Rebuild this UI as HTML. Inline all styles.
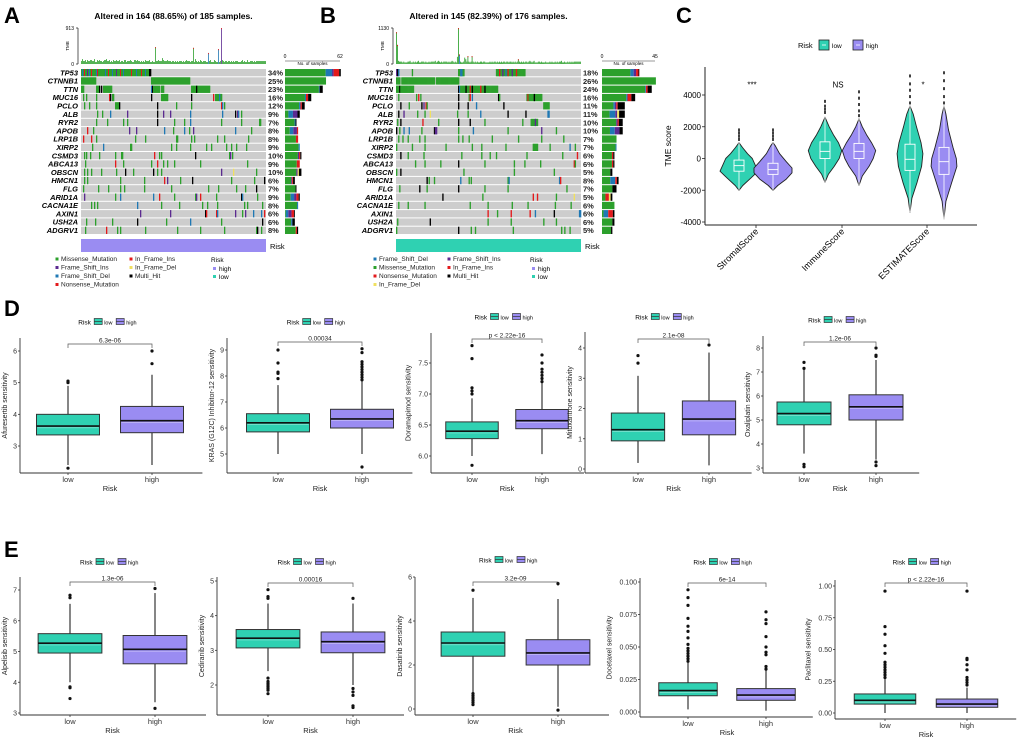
<!DOCTYPE html>
<html><head><meta charset="utf-8"><style>
html,body{margin:0;padding:0;background:#fff;}
svg{display:block;font-family:"Liberation Sans",sans-serif;}
</style></head><body>
<svg id="fig" width="1020" height="741" viewBox="0 0 1020 741" xmlns="http://www.w3.org/2000/svg">
<text x="4" y="23" font-size="22" font-weight="bold">A</text>
<text x="320" y="23" font-size="22" font-weight="bold">B</text>
<text x="676" y="23" font-size="22" font-weight="bold">C</text>
<text x="4" y="316" font-size="22" font-weight="bold">D</text>
<text x="4" y="557" font-size="22" font-weight="bold">E</text>
</svg>
<script>
// ---------- data ----------
const genesA = ["TP53","CTNNB1","TTN","MUC16","PCLO","ALB","RYR2","APOB","LRP1B","XIRP2","CSMD3","ABCA13","OBSCN","HMCN1","FLG","ARID1A","CACNA1E","AXIN1","USH2A","ADGRV1"];
const pctA = [34,25,23,16,12,9,7,8,8,9,10,9,10,6,7,9,8,6,6,8];
const pctB = [18,26,24,16,11,11,10,10,7,7,6,6,5,8,7,5,6,6,6,5];
const cellsA = [
"0-69:gbgrggpgbgrggggbrgggggggbggrgggbgggpgggrggbgggggggrggggbggggrgggbgggkk",
"0-14:g 70-108:g",
"0-2:g 15-17:g 18:k 20:k 22-30:g 70:b 71:k 72-78:g 80-82:g 110-128:g 115:k",
"2:g 5:g 15:g 28:r 29:k 31:g 32:g 70:k 80:g 81-86:g 110:k 132:r 134-140:g 138:b",
"3:g 8:g 15:g 34-37:g 38:k 76:k 95:g 110:g 140:r 141:b 143:g",
"16:g 21:g 29:b 46:p 76:k 82:p 89:p 109:b 141:b 154:k 156:p 157:b 160:g",
"15:g 26:g 42:g 46:g 76:k 93:g 103:g 109:b 140:g 160:g 178:g 179:g",
"6:r 12:g 48:p 55:p 83:b 92:g 103:b 108:g 112:p 154:b 170:g",
"2:r 10:r 15:g 54:g 64:g 95:g 96:g 110:g 113:g 136:g 143:g 167:g",
"11:g 22:b 49:g 50:g 90:g 95:g 109:g 125:g 130:g 145:g 150:g 155:g 165:g",
"3:g 5:g 9:g 18:g 34:g 40:g 41:g 73:r 78:g 80:g 114:k 148:g 149:p 151:g",
"4:g 34:r 42:g 70:g 76:r 82:g 86:g 93:g 119:g 166:g",
"3:g 6:g 10:g 20:g 35:g 44:k 52:g 72:k 76:g 80:g 140:p 152:y 175:g",
"3:g 6:g 39:g 63:g 83:r 86:p 99:g 111:k 150:g 173:g 183:k",
"2:g 17:g 27:g 39:g 43:g 63:g 90:g 127:g 137:g 155:g 164:g 175:k",
"3:p 34:g 39:b 72:b 78:r 93:g 114:g 115:p 119:r 135:g 160:k 161:b 176:g",
"10:g 13:g 16:g 56:b 80:g 98:g 121:g 126:g 136:g 163:g 166:g 181:g",
"59:p 89:p 124:k 125:r 135:r 136:b 154:p 161:g 164:p 172:b 180:b 183:r",
"5:g 14:g 31:g 56:k 85:g 109:b 140:g 181:k",
"4:g 25:r 36:g 39:g 64:g 96:g 119:g 143:g 175:g 176:k 180:g"];
const cellsB = [
"0:p 1:k 2:b 15:g 59-64:g 61:b 62:b 95-122:g 98:r 101:p 104:b 106:r 110:p 114:r",
"0-3:g 5-36:g 38-59:g",
"0-2:g 3:k 4-16:g 59:k 60:b 61-96:g 66:k 70:r 72:k 80:r 84:k",
"2:g 19:g 21:r 23:g 59:k 69:g 70:r 72:b 97:k 98:g 124:g 125:r 126-138:g 131:k",
"4:k 12:g 24:k 26:p 28:r 29:g 59:k 68:k 76:b 102:k 140-145:g",
"2:k 7:p 20:g 27:g 32:y 58:g 68:g 80:b 106:k 123:k 144:b 145:b",
"1:g 4:k 25:r 40:g 59:k 70:k 84:g 120:g 128-134:g 132:p",
"0:k 3:g 7:b 12:b 24:g 36:k 37:p 38:p 59:g 73:b 106:g 138:p 152:g",
"2:g 6:g 11:g 22:g 27:g 59:g 63:g 69:g 91:g 116:g 138:g 159:g",
"0:g 15:g 27:g 47:g 72:g 81:g 104:g 130-134:g 146:g 165:b 170:g",
"4:k 11:g 26:g 62:g 81:g 89:g 95:g 124:g 158:g 172:r",
"18:g 27:g 42:g 59:k 84:g 112:g 122:g 137:g 169:r 170:g",
"0:g 4:k 64:g 112:g 150:g",
"29:k 31:g 36:g 61:b 69:g 71:g 106:g 107:b 155:b 156:r 176:g",
"3:g 22:k 29:g 59:k 84:g 106:g 162:g",
"44:k 82:g 130:r 134:r 152:g 169:y 181:r 182:b",
"2:g 11:g 27:g 70:g 87:g 110:g 125:g 151:g 166:g",
"87:r 96:g 109:r 127:r 132:b 150:k 174:b 175:b 178:r",
"1:g 32:k 87:g 109:g 140:g 152:g 181:r",
"0:g 59:k 71:g 75:g 111:g 157:g 160:g 165:g 182:g"];
// TMB base levels per sample (digit * 25 = TMB units), and spikes (column -> TMB)
const tmbBaseA = "3533424334433522434332344533423243343342332442333432244343323232433342232223343336433343332332323233323234333233225323243233322334222432232334323323323232333222342322422333232";
const tmbBaseB = "4443332322233422323234223332322323333423432323333232343232932322386333232323232233233222232323323232323323323323232323232323323432342223323222322232322323233422322323232";
const tmbSpikeA = {74:430,112:410,127:280,137:380,140:913};
const tmbSpikeB = {0:1000,1:600,59:1130,60:300,68:250,72:250,116:150};

// Violin data (panel C): [value, relative density]
const tmeCats = ["StromalScore","ImmuneScore","ESTIMATEScore"];
const tmeSig = ["***","NS","*"];
const tmeWidthScale = [1.0,0.88,0.68];
const vLow = [
 [[-2000,0],[-1700,0.2],[-1200,0.65],[-800,1],[-400,0.85],[0,0.7],[300,0.45],[700,0.18],[1000,0]],
 [[-1500,0],[-1000,0.2],[-500,0.55],[0,0.85],[500,1],[1000,0.8],[1500,0.5],[2000,0.25],[2600,0]],
 [[-3400,0],[-2500,0.15],[-1500,0.55],[-500,0.9],[300,1],[1000,0.85],[2000,0.5],[2800,0.25],[3300,0]]];
const vHigh = [
 [[-2000,0],[-1700,0.25],[-1300,0.7],[-900,1],[-600,1],[-200,0.7],[300,0.35],[800,0.12],[1000,0]],
 [[-1700,0],[-1100,0.2],[-500,0.6],[0,0.85],[500,1],[1000,0.75],[1500,0.45],[2000,0.2],[2500,0]],
 [[-3800,0],[-2700,0.15],[-1500,0.6],[-500,1],[0,0.95],[700,0.7],[1800,0.35],[2800,0.15],[3300,0]]];
const vBoxLow = [[-800,-450,-100],[0,450,1050],[-750,-50,900]];
const vBoxHigh = [[-1000,-700,-300],[0,450,950],[-1000,-200,700]];
const vOutLow = [[1200,1400,1600,1800],[2900,3100,3300,3600],[3500,3900,4300,4700,5200]];
const vOutHigh = [[1200,1400,1600,1800],[2700,3000,3400,3800,4200],[3500,3900,4400,4900,5400]];
const tmeTicks = [4000,2000,0,-2000,-4000];

// Boxplot panels: stats = [whiskLo, q1, median, q3, whiskHi]
const boxTitles = ["Afuresertib sensitivity","KRAS (G12C) Inhibitor-12 sensitivity","Doramapimod sensitivity","Mitoxantrone sensitivity","Oxaliplatin sensitivity","Alpelisib sensitivity","Cediranib sensitivity","Dasatinib sensitivity","Docetaxel sensitivity","Paclitaxel sensitivity"];
const boxPvals = ["6.3e-06","0.00034","p < 2.22e-16","2.1e-08","1.2e-06","1.3e-06","0.00016","3.2e-09","6e-14","p < 2.22e-16"];
const lowStats = [[2.4,3.35,3.63,4.0,4.9],[5.0,5.85,6.2,6.55,7.65],[6.0,6.28,6.4,6.55,6.93],[0.2,0.93,1.3,1.85,3.08],[3.6,4.8,5.27,5.75,7.1],[4.0,4.95,5.27,5.58,6.55],[2.4,3.07,3.35,3.6,4.35],[0.75,2.4,3.0,3.5,5.05],[0.002,0.0125,0.0165,0.0225,0.038],[0,0.07,0.1,0.15,0.27]];
const highStats = [[2.4,3.42,3.8,4.25,5.25],[5.0,6.0,6.35,6.72,7.8],[6.03,6.44,6.57,6.75,7.18],[0.12,1.13,1.65,2.25,3.85],[3.35,5.0,5.55,6.05,7.5],[3.35,4.6,5.07,5.52,6.9],[2.0,2.93,3.25,3.53,4.35],[0.1,2.0,2.55,3.15,5.0],[0.001,0.009,0.013,0.018,0.032],[0,0.045,0.07,0.11,0.2]];
const lowOut = [[2.3,5.0,5.05],[7.9,8.1,8.15,8.5,9.0],[5.85,7.0,7.05,7.1,7.57,7.78],[3.5,3.75],[3.05,3.15,7.15,7.4],[3.47,3.82,3.85,6.75,6.83],[1.75,1.85,1.9,1.95,2.0,2.05,2.1,2.2,4.5,4.55,4.75],[0.2,0.3,0.4,0.5,0.6,0.7,5.4],[0.039,0.041,0.043,0.045,0.047,0.049,0.052,0.057,0.062,0.066,0.072,0.082,0.088,0.094],[0.28,0.3,0.32,0.34,0.36,0.38,0.4,0.47,0.53,0.62,0.68,0.96]];
const highOut = [[5.6,6.0],[4.5,7.85,7.95,8.05,8.15,8.25,8.35,8.45,8.55,8.9,9.05],[7.2,7.25,7.3,7.35,7.4,7.5,7.63],[4.1],[3.1,3.25,7.65,7.7,8.0],[3.15,7.05],[1.35,1.4,1.7,1.8,1.9,4.5],[-0.05,5.7],[0.033,0.035,0.044,0.046,0.05,0.058,0.068,0.071,0.077],[0.22,0.24,0.26,0.28,0.34,0.38,0.42,0.43,0.96]];
const boxTicks = [[3,4,5,6],[5,6,7,8,9],[6.0,6.5,7.0,7.5],[0,1,2,3,4],[3,4,5,6,7,8],[3,4,5,6,7],[2,3,4,5],[0,2,4,6],[0,0.025,0.05,0.075,0.1],[0,0.25,0.5,0.75,1.0]];
const boxTickFmt = [0,0,1,0,0,0,0,0,3,2];

// layout (pixels)
const boxLayout = [
 {ax:20,lx:68,hx:152,top:338,bot:473,v1:6,y1:351,v2:3,y2:446,br:344,leg:322},
 {ax:227,lx:278,hx:362,top:338,bot:473,v1:9,y1:350,v2:5,y2:454,br:342,leg:322},
 {ax:431,lx:472,hx:542,top:333,bot:473,v1:7.5,y1:363,v2:6,y2:456,br:339,leg:317},
 {ax:585,lx:638,hx:709,top:332,bot:473,v1:4,y1:348,v2:0,y2:469,br:339,leg:317},
 {ax:763,lx:804,hx:876,top:336,bot:473,v1:8,y1:348,v2:3,y2:468,br:342,leg:320},
 {ax:20,lx:70,hx:155,top:577,bot:715,v1:7,y1:590,v2:3,y2:713,br:582,leg:562},
 {ax:217,lx:268,hx:353,top:577,bot:715,v1:5,y1:581,v2:2,y2:685,br:583,leg:562},
 {ax:415,lx:473,hx:558,top:577,bot:715,v1:6,y1:577,v2:0,y2:709,br:582,leg:560},
 {ax:640,lx:688,hx:766,top:578,bot:717,v1:0.1,y1:582,v2:0,y2:712,br:583,leg:562},
 {ax:835,lx:885,hx:967,top:580,bot:719,v1:1,y1:586,v2:0,y2:713,br:583,leg:562}];

const COL = {g:"#2ca02c",p:"#5b2a90",b:"#1f78b4",r:"#e31a1c",k:"#000000",y:"#f0e060"};
const TEAL = "#2fd1b2", PURP = "#9a8cf2";
const NS = "http://www.w3.org/2000/svg";
const svg = document.getElementById("fig");
function el(tag, attrs, parent, txt){
  const e = document.createElementNS(NS, tag);
  for (const k in attrs) e.setAttribute(k, attrs[k]);
  if (txt !== undefined) e.textContent = txt;
  (parent||svg).appendChild(e); return e;
}
function parseCells(s){
  const out=[];
  s.split(" ").forEach(tok=>{
    const [rng,c]=tok.split(":");
    const [a,b]=rng.split("-").map(Number);
    const end = isNaN(b)?a:b;
    for(let i=a;i<=end;i++){
      const col = c.length>1 ? c[(i-a)%c.length] : c;
      out.push([i,col]);
    }
  });
  return out;
}

function oncoplot(cfg){
  const g = el("g",{});
  
  
  const N=cfg.n, x0=cfg.x0, x1=cfg.x1, cw=(x1-x0)/N;
  const rowTop=69, rowH=8.3;
  const t=el("text",{x:(x0+x1)/2,y:19,"font-size":8.5,"font-weight":"bold","text-anchor":"middle"},g,cfg.title);
  
  
  // TMB
  el("line",{x1:x0-3,y1:28,x2:x0-3,y2:64,stroke:"#333","stroke-width":0.8},g);
  el("line",{x1:x0-5,y1:28,x2:x0-3,y2:28,stroke:"#333","stroke-width":0.8},g);
  el("line",{x1:x0-5,y1:64,x2:x0-3,y2:64,stroke:"#333","stroke-width":0.8},g);
  el("text",{x:x0-7,y:30,"font-size":5,"text-anchor":"end"},g,String(cfg.tmbMax));
  el("text",{x:x0-7,y:66,"font-size":5,"text-anchor":"end"},g,"0");
  el("text",{x:x0-12,y:46,"font-size":4.5,"text-anchor":"middle",transform:`rotate(-90 ${x0-12} 46)`},g,"TMB");
  const ty = v => 64 - Math.min(36, v*36/cfg.tmbMax);
  for(let i=0;i<N;i++){
    const sp = cfg.spike[i];
    const v = sp!==undefined ? sp : (+(cfg.tmbBase[i]||"3"))*cfg.tmbUnit;
    const c = cfg.spikeCol[i] || "#2ca02c";
    const b=el("rect",{x:x0+i*cw,y:ty(v),width:Math.max(cw*0.8,0.8),height:64-ty(v),fill:c},g);
    
    
    if (sp!==undefined) el("rect",{x:x0+i*cw,y:ty(v),width:Math.max(cw*0.8,0.8),height:1.2,fill:COL.r},g);
  }
  genesA.forEach((gn,r)=>{
    const y=rowTop+r*rowH;
    const rr=el("rect",{x:x0,y:y,width:x1-x0,height:rowH-1,fill:"#cdcdcd"},g);
    
    
    const cells=parseCells(cfg.cells[r]);
    const cnt={};
    cells.forEach(([c,k])=>{
      if(c>=N) return;
      el("rect",{x:x0+c*cw,y:y,width:cw+0.3,height:rowH-1,fill:COL[k]},g);
      cnt[k]=(cnt[k]||0)+1;
    });
    const lab=el("text",{x:x0-3,y:y+6.3,"font-size":7.5,"font-weight":"bold","font-style":"italic","text-anchor":"end"},g,gn);
    
    
    el("text",{x:x1+2,y:y+6.5,"font-size":7.5,"font-weight":"bold",fill:"#222"},g,cfg.pct[r]+"%");
    const total = cfg.pct[r]*N/100;
    const sumc = Object.values(cnt).reduce((a,b)=>a+b,0)||1;
    let bx=cfg.bx0;
    ["g","b","p","r","y","k"].forEach(k=>{
      if(!cnt[k]) return;
      const w=(cnt[k]/sumc)*total*(cfg.bx1-cfg.bx0)/cfg.bmax;
      el("rect",{x:bx,y:y,width:w,height:rowH-1,fill:COL[k]},g);
      bx+=w;
    });
  });
  el("line",{x1:cfg.bx0,y1:61,x2:cfg.bx1,y2:61,stroke:"#333","stroke-width":0.6},g);
  el("text",{x:cfg.bx0,y:58,"font-size":5,"text-anchor":"middle"},g,"0");
  el("text",{x:cfg.bx1,y:58,"font-size":5,"text-anchor":"middle"},g,String(cfg.bmax));
  el("text",{x:(cfg.bx0+cfg.bx1)/2,y:65,"font-size":4.5,"text-anchor":"middle"},g,"No. of samples");
  const rb=el("rect",{x:x0,y:239,width:x1-x0,height:13,fill:cfg.risk},g);
  
  
  el("text",{x:x1+4,y:249,"font-size":7.5},g,"Risk");
  cfg.legend.forEach(([lx,ly,col,txt])=>{
    el("rect",{x:lx-1.5,y:ly-3.5,width:3,height:3,fill:col},g);
    const lt=el("text",{x:lx+4,y:ly,"font-size":6.5,fill:"#222"},g,txt);
    
    
  });
  el("text",{x:cfg.rx,y:262,"font-size":6.5},g,"Risk");
  el("rect",{x:cfg.rx+2,y:267,width:3,height:3,fill:PURP},g);
  el("text",{x:cfg.rx+8,y:271,"font-size":6.5},g,"high");
  el("rect",{x:cfg.rx+2,y:275,width:3,height:3,fill:TEAL},g);
  el("text",{x:cfg.rx+8,y:279,"font-size":6.5},g,"low");
}
const spikeColA={127:"#1f78b4",137:"#1f78b4",140:"#5b2a90"};
const spikeColB={60:"#1f78b4"};
oncoplot({name:"oncoplot-low-risk",n:185,x0:81,x1:266,title:"Altered in 164 (88.65%) of 185 samples.",tmbMax:913,tmbUnit:25,tmbBase:tmbBaseA,spike:tmbSpikeA,spikeCol:spikeColA,cells:cellsA,pct:pctA,bx0:285,bx1:340,bmax:62,risk:PURP,rx:211,
 legend:[[57,261,COL.g,"Missense_Mutation"],[57,269.5,COL.p,"Frame_Shift_Ins"],[57,278,COL.b,"Frame_Shift_Del"],[57,286.5,COL.r,"Nonsense_Mutation"],[131,261,COL.r,"In_Frame_Ins"],[131,269.5,COL.y,"In_Frame_Del"],[131,278,COL.k,"Multi_Hit"]]});
oncoplot({name:"oncoplot-high-risk",n:176,x0:396,x1:581,title:"Altered in 145 (82.39%) of 176 samples.",tmbMax:1130,tmbUnit:25,tmbBase:tmbBaseB,spike:tmbSpikeB,spikeCol:spikeColB,cells:cellsB,pct:pctB,bx0:602,bx1:655,bmax:45,risk:TEAL,rx:530,
 legend:[[375,261,COL.b,"Frame_Shift_Del"],[375,269.5,COL.g,"Missense_Mutation"],[375,278,COL.r,"Nonsense_Mutation"],[375,286.5,COL.y,"In_Frame_Del"],[449,261,COL.p,"Frame_Shift_Ins"],[449,269.5,COL.r,"In_Frame_Ins"],[449,278,COL.k,"Multi_Hit"]]});

// ---------- Panel C ----------
(function(){
  const ax=705, ar=977, top=67, bot=225;
  const y=v=>158.5-v*(127/8000);
  const catX=[756,842,927], off=17, maxHW=19;
  const g=el("g",{});
  
  
  el("text",{x:798,y:48,"font-size":7.5},g,"Risk");
  [[819,TEAL,"low"],[853,PURP,"high"]].forEach(([lx,c,t])=>{
    const k=el("rect",{x:lx,y:40,width:10,height:10,fill:c,stroke:"#222","stroke-width":0.8},g);
    
    
    el("line",{x1:lx+3,y1:45,x2:lx+7,y2:45,stroke:"#fff","stroke-width":0.8},g);
    el("text",{x:lx+13,y:48,"font-size":6.5},g,t);
  });
  el("line",{x1:ax,y1:top,x2:ax,y2:bot,stroke:"#222","stroke-width":1},g);
  el("line",{x1:ax,y1:bot,x2:ar,y2:bot,stroke:"#222","stroke-width":1},g);
  tmeTicks.forEach(v=>{
    el("line",{x1:ax-3,y1:y(v),x2:ax,y2:y(v),stroke:"#222","stroke-width":0.8},g);
    el("text",{x:ax-4,y:y(v)+3,"font-size":8,"text-anchor":"end"},g,String(v));
  });
  el("text",{x:671,y:146,"font-size":8.5,"text-anchor":"middle",transform:"rotate(-90 671 146)"},g,"TME score");
  function violin(cx,prof,box,outs,fill,ws){
    const hw=maxHW*ws;
    let d="";
    prof.forEach(([v,w],i)=>{ d+=(i?"L":"M")+(cx+w*hw).toFixed(1)+","+y(v).toFixed(1); });
    for(let i=prof.length-1;i>=0;i--){ d+="L"+(cx-prof[i][1]*hw).toFixed(1)+","+y(prof[i][0]).toFixed(1); }
    const p=el("path",{d:d+"Z",fill:fill,stroke:"#222","stroke-width":0.9,"stroke-linejoin":"round"},g);
    
    
    const lo=prof[0][0], hi=prof[prof.length-1][0];
    el("line",{x1:cx,y1:y(lo),x2:cx,y2:y(hi),stroke:"#fff","stroke-width":0.8},g);
    el("rect",{x:cx-5,y:y(box[2]),width:10,height:y(box[0])-y(box[2]),fill:fill,stroke:"#fff","stroke-width":0.9},g);
    el("line",{x1:cx-5,y1:y(box[1]),x2:cx+5,y2:y(box[1]),stroke:"#fff","stroke-width":0.9},g);
    outs.forEach(v=>el("rect",{x:cx-0.8,y:y(v)-1.5,width:1.6,height:3,fill:"#111"},g));
  }
  tmeCats.forEach((c,i)=>{
    violin(catX[i]-off,vLow[i],vBoxLow[i],vOutLow[i],TEAL,tmeWidthScale[i]);
    violin(catX[i]+off,vHigh[i],vBoxHigh[i],vOutHigh[i],PURP,tmeWidthScale[i]);
    el("line",{x1:catX[i],y1:bot,x2:catX[i],y2:bot+3,stroke:"#222","stroke-width":0.8},g);
    const lt=el("text",{x:catX[i]+3,y:bot+7,"font-size":9,"text-anchor":"end",transform:`rotate(-45 ${catX[i]+3} ${bot+7})`},g,c);
    
    
    el("text",{x:catX[i]-off+13,y:y(4650)+3,"font-size":8,"text-anchor":"middle"},g,tmeSig[i]);
  });
})();

// ---------- Boxplot panels ----------
boxTitles.forEach((title,i)=>{
  const L=boxLayout[i];
  const sc=(L.y2-L.y1)/(L.v2-L.v1);
  const y=v=>L.y1+(v-L.v1)*sc;
  const sp=L.hx-L.lx, hw=sp*0.375;
  const g=el("g",{});
  
  
  const right=L.hx+sp*0.6;
  const cx=(L.ax+right)/2;
  el("text",{x:cx-33,y:L.leg+2.5,"font-size":6.5},g,"Risk");
  [[cx-17,TEAL,"low"],[cx+5,PURP,"high"]].forEach(([lx,c,t])=>{
    el("rect",{x:lx,y:L.leg-3.5,width:8,height:6,fill:c,stroke:"#333","stroke-width":0.7},g);
    el("line",{x1:lx,y1:L.leg-0.5,x2:lx+8,y2:L.leg-0.5,stroke:"#333","stroke-width":0.7},g);
    el("text",{x:lx+10,y:L.leg+2.5,"font-size":5.5},g,t);
  });
  el("line",{x1:L.ax,y1:L.top,x2:L.ax,y2:L.bot,stroke:"#333","stroke-width":0.9},g);
  el("line",{x1:L.ax,y1:L.bot,x2:right,y2:L.bot,stroke:"#333","stroke-width":0.9},g);
  let maxLen=0;
  boxTicks[i].forEach(v=>{
    const s=v.toFixed(boxTickFmt[i]); maxLen=Math.max(maxLen,s.length);
    el("line",{x1:L.ax-2,y1:y(v),x2:L.ax,y2:y(v),stroke:"#333","stroke-width":0.8},g);
    el("text",{x:L.ax-3,y:y(v)+2.5,"font-size":7,"text-anchor":"end",fill:"#333"},g,s);
  });
  const tx=L.ax-5-maxLen*3.9-4, ty=(L.top+L.bot)/2;
  const yt=el("text",{x:tx,y:ty,"font-size":7,"text-anchor":"middle",fill:"#222",transform:`rotate(-90 ${tx} ${ty})`},g,title);
  
  
  [[L.lx,"low"],[L.hx,"high"]].forEach(([x,t])=>{
    el("line",{x1:x,y1:L.bot,x2:x,y2:L.bot+2,stroke:"#333","stroke-width":0.8},g);
    el("text",{x:x,y:L.bot+9,"font-size":7.5,"text-anchor":"middle",fill:"#333"},g,t);
  });
  el("text",{x:(L.lx+L.hx)/2,y:L.bot+18,"font-size":7.5,"text-anchor":"middle",fill:"#222"},g,"Risk");
  el("path",{d:`M${L.lx},${L.br+4}V${L.br}H${L.hx}V${L.br+4}`,fill:"none",stroke:"#555","stroke-width":0.7},g);
  el("text",{x:(L.lx+L.hx)/2,y:L.br-1.5,"font-size":6.5,"text-anchor":"middle",fill:"#222"},g,boxPvals[i]);
  [[L.lx,lowStats[i],lowOut[i],TEAL],[L.hx,highStats[i],highOut[i],PURP]].forEach(([x,s,o,c])=>{
    el("line",{x1:x,y1:y(s[0]),x2:x,y2:y(s[4]),stroke:"#222","stroke-width":1.1},g);
    const b=el("rect",{x:x-hw,y:y(s[3]),width:2*hw,height:y(s[1])-y(s[3]),fill:c,stroke:"#333","stroke-width":1},g);
    
    
    el("line",{x1:x-hw,y1:y(s[2]),x2:x+hw,y2:y(s[2]),stroke:"#111","stroke-width":1.6},g);
    el("line",{x1:x-hw+1,y1:y(s[2])+1.8,x2:x+hw-1,y2:y(s[2])+1.8,stroke:"#ffffff","stroke-opacity":0.5,"stroke-width":0.6},g);
    o.forEach(v=>{
      const pt=el("circle",{cx:x,cy:y(v),r:1.6,fill:"#111"},g);
      
      
    });
  });
});
</script>
</body></html>
